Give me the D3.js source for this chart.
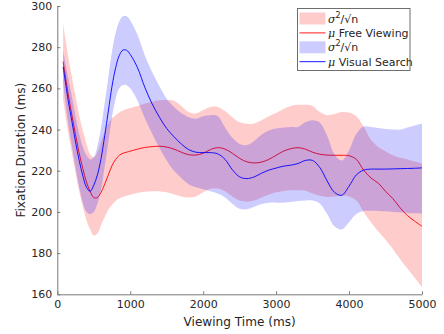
<!DOCTYPE html>
<html>
<head>
<meta charset="utf-8">
<script src="https://cdn.jsdelivr.net/npm/d3@7"></script>
<style>
    body { margin: 0; background: #fff; }
    svg { display: block; }
    text { font-family: "DejaVu Sans", sans-serif; fill: #262626; }
</style>
</head>
<body>
<div id="chart"></div>
<script>
// viewing time (ms) of every sample
const times = [80, 150, 200, 250, 300, 350, 400, 450, 500, 550, 600, 650, 700, 750, 800, 850, 900, 950, 1000,
    1100, 1200, 1300, 1400, 1500, 1600, 1700, 1800, 1900, 2000, 2100, 2200, 2300, 2400, 2500, 2600, 2700, 2800, 2900,
    3000, 3100, 3200, 3300, 3400, 3500, 3600, 3700, 3800, 3900, 4000, 4100, 4200, 4300, 4400, 4500, 4600, 4700, 4800,
    4900, 5000];

// free viewing
const fvMean = [273, 257, 247, 237.5, 228.5, 221, 214.5, 210, 207, 207, 209.5, 213.5, 218, 222.5, 225.5, 227.5, 228.5, 229, 229.5,
    230.5, 231.3, 231.7, 231.9, 231.5, 230.5, 229, 227.8, 227.6, 228.5, 230.3, 231.2, 230.5, 228.5, 226, 224.3, 223.8, 224.2, 225.5,
    227.5, 229.5, 230.7, 231.2, 230.5, 229, 228, 227.6, 227.5, 227.5, 227.3, 225.5, 220.3, 216.5, 214, 210, 206.5, 202, 198.2,
    195.5, 193];
const fvUpper = [291.5, 275.5, 265.5, 256, 247, 239.5, 233, 228, 226.5, 229, 234, 239, 243, 245.5, 247, 248.3, 249.2, 250, 250.5,
    251.5, 252.5, 253.5, 254.2, 254.3, 254, 251.5, 248.5, 247.8, 249.5, 251, 251, 249, 246, 243.5, 242.8, 243, 244.5, 246.5,
    248, 250, 251.5, 252, 252, 251.5, 248.5, 247, 247.5, 248.5, 248.3, 246.5, 241.5, 235, 231.5, 229.5, 227.5, 226.3, 225.5,
    224.5, 223.5];
const fvLower = [254.5, 238.5, 228.5, 219, 210, 202.5, 196, 191.5, 188.5, 189.5, 193.5, 197.5, 201, 203.5, 205.3, 206.5, 207.2, 207.8, 208.3,
    209.3, 209.8, 210, 210, 209.5, 208.5, 207.5, 207, 207.5, 209.5, 211.2, 211.4, 210, 207.5, 205.5, 205, 205.5, 207, 208.5,
    209.5, 210.2, 210.5, 210.5, 210.3, 209, 207.8, 207.3, 207.5, 207.8, 207.5, 205.5, 200, 195, 190.5, 186.5, 182, 177, 172.5,
    168, 163.5];

// visual search
const vsMean = [270.5, 254, 244, 234, 225, 217.5, 212, 210, 213, 218, 226, 237, 249, 261, 270, 276, 278.6, 278.5, 276.5,
    270, 260.5, 252.5, 246, 240.5, 236.5, 233, 230.3, 229, 228.8, 228.8, 228.2, 225.5, 220.5, 217, 216.2, 217, 218.8, 220.3,
    221.3, 222.2, 222.7, 223.5, 225, 225, 221.5, 215, 209.5, 208.1, 212.5, 218, 220.3, 220.8, 220.8, 220.8, 220.9, 221, 221.1,
    221.2, 221.4];
const vsUpper = [278.5, 265, 256, 246.5, 238, 231.5, 227.5, 225.5, 226.5, 232, 241, 253, 265.5, 278, 287, 292.5, 295, 295, 293,
    286, 276, 268, 261, 255, 251, 248, 246, 245.3, 246.5, 247, 246.5, 241, 236, 233, 232.5, 234.5, 237.5, 239.5,
    240.5, 241, 241.2, 241.3, 243.5, 244.5, 243.3, 237, 228, 225, 230, 238, 241.5, 241.3, 240.7, 240.3, 240, 240, 241,
    242, 243];
const vsLower = [262.5, 243, 232, 221.5, 212, 204.5, 200, 199, 200, 204, 211, 222, 234, 246, 255, 260, 261.6, 261.5, 260,
    254, 245.5, 238, 231, 225, 220, 216.5, 213.5, 212, 211, 210, 209, 207, 204, 201.5, 201.3, 202.5, 203.9, 204.5,
    204.5, 204.5, 204.8, 205.3, 205.5, 205.5, 204, 199, 193, 191.5, 195, 199, 200.5, 200.5, 200.5, 200.3, 200, 199.8, 199.5,
    199.3, 199];

const xTicks = [0, 1000, 2000, 3000, 4000, 5000];
const yTicks = [160, 180, 200, 220, 240, 260, 280, 300];

const W = 444, H = 334;
const margin = {left: 57.3, right: 422, top: 6, bottom: 294.3};

const x = d3.scaleLinear().domain([0, 5000]).range([margin.left, margin.right]);
const y = d3.scaleLinear().domain([160, 300]).range([margin.bottom, margin.top]);

const svg = d3.select("#chart").append("svg")
    .attr("width", W)
    .attr("height", H);

function rows(mean, upper, lower) {
    return times.map((t, i) => ({t: t, m: mean[i], hi: upper[i], lo: lower[i]}));
}

const series = [
    {name: "fv", data: rows(fvMean, fvUpper, fvLower), fill: "#ff0000", line: "#ff0000"},
    {name: "vs", data: rows(vsMean, vsUpper, vsLower), fill: "#0000ff", line: "#0000ff"}
];

const curve = d3.curveCatmullRom.alpha(0.5);
const band = d3.area().curve(curve)
    .x(d => x(d.t))
    .y0(d => y(d.lo))
    .y1(d => y(d.hi));
const meanLine = d3.line().curve(curve)
    .x(d => x(d.t))
    .y(d => y(d.m));

// band then line, red first so the blue band tints the red line
series.forEach(s => {
    svg.append("path")
        .datum(s.data)
        .attr("d", band)
        .attr("fill", s.fill)
        .attr("fill-opacity", 0.2)
        .attr("stroke", "none");
    svg.append("path")
        .datum(s.data)
        .attr("d", meanLine)
        .attr("fill", "none")
        .attr("stroke", s.line)
        .attr("stroke-width", 0.9);
});

// axes, ticks pointing inward
const xAxis = svg.append("g")
    .attr("transform", `translate(0,${margin.bottom})`)
    .call(d3.axisBottom(x).tickValues(xTicks).tickFormat(d3.format("d"))
        .tickSizeInner(-3).tickSizeOuter(0).tickPadding(6));
const yAxis = svg.append("g")
    .attr("transform", `translate(${margin.left},0)`)
    .call(d3.axisLeft(y).tickValues(yTicks).tickFormat(d3.format("d"))
        .tickSizeInner(-3).tickSizeOuter(0).tickPadding(5));

[xAxis, yAxis].forEach(g => {
    g.selectAll("path, line").attr("stroke", "#7a7a7a").attr("stroke-width", 1);
    g.selectAll("text").attr("font-size", 11).attr("font-family", "DejaVu Sans").attr("fill", "#262626");
});

// axis labels are 1.1x the tick font
svg.append("text")
    .attr("x", (margin.left + margin.right) / 2)
    .attr("y", 325.5)
    .attr("text-anchor", "middle")
    .attr("font-size", 12.1)
    .text("Viewing Time (ms)");

svg.append("text")
    .attr("transform", `translate(24.5,${(margin.top + margin.bottom) / 2}) rotate(-90)`)
    .attr("text-anchor", "middle")
    .attr("font-size", 12.1)
    .text("Fixation Duration (ms)");

// legend
const legendItems = [
    {kind: "patch", color: "#ff0000", sym: "σ", text: "/√n"},
    {kind: "line", color: "#ff0000", sym: "μ", text: " Free Viewing"},
    {kind: "patch", color: "#0000ff", sym: "σ", text: "/√n"},
    {kind: "line", color: "#0000ff", sym: "μ", text: " Visual Search"}
];

const legend = svg.append("g");
legend.append("rect")
    .attr("x", 297.5).attr("y", 8.5)
    .attr("width", 112.5).attr("height", 62)
    .attr("fill", "#fff")
    .attr("stroke", "#6e6e6e")
    .attr("stroke-width", 1);

legendItems.forEach((d, i) => {
    const cy = 18.5 + i * 14.4;
    if (d.kind === "patch") {
        legend.append("rect")
            .attr("x", 299.5).attr("y", cy - 6)
            .attr("width", 26).attr("height", 12)
            .attr("fill", d.color).attr("fill-opacity", 0.2);
    } else {
        legend.append("line")
            .attr("x1", 299.5).attr("x2", 325.5)
            .attr("y1", cy).attr("y2", cy)
            .attr("stroke", d.color).attr("stroke-width", 0.9);
    }
    const t = legend.append("text")
        .attr("x", 328)
        .attr("y", cy + 4)
        .attr("font-size", 11);
    t.append("tspan").attr("font-style", "italic").attr("font-family", "DejaVu Serif").text(d.sym);
    if (d.kind === "patch") {
        t.append("tspan").attr("font-size", 8).attr("dy", -5).text("2");
        t.append("tspan").attr("dy", 5).text(d.text);
    } else {
        t.append("tspan").text(d.text);
    }
});
</script>
</body>
</html>
